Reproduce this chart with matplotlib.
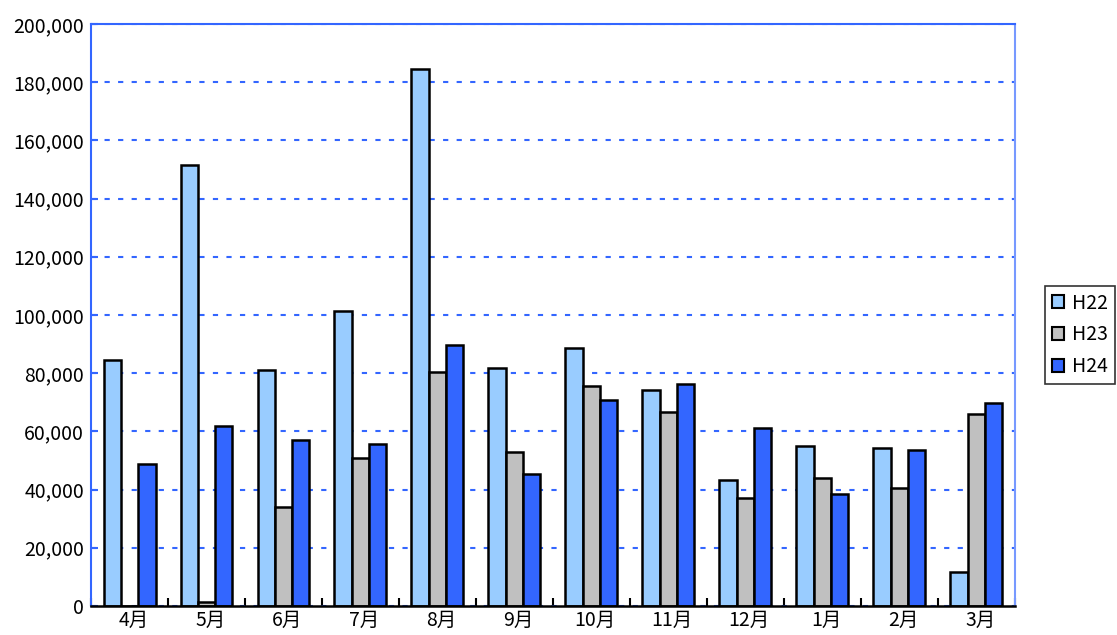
import numpy as np
import matplotlib.pyplot as plt
from matplotlib.ticker import FuncFormatter

plt.rcParams['font.family'] = ['Noto Sans CJK JP', 'DejaVu Sans']

# データ
months = ["4月", "5月", "6月", "7月", "8月", "9月", "10月", "11月", "12月", "1月", "2月", "3月"]
h22 = [84700, 151500, 81000, 101500, 184500, 81700, 88500, 74300, 43300, 55000, 54200, 11600]
h23 = [0, 1400, 34000, 50800, 80300, 52800, 75500, 66800, 37000, 44000, 40400, 66000]
h24 = [48800, 61900, 57000, 55600, 89800, 45400, 70700, 76300, 61000, 38400, 53500, 69900]

series = [("H22", h22, "#99ccff"), ("H23", h23, "#c0c0c0"), ("H24", h24, "#3366ff")]

fig = plt.figure(figsize=(11.17, 6.35), dpi=100)
ax = fig.add_axes([0.0815, 0.0457, 0.827, 0.9165])

x = np.arange(len(months))
w = 0.225
for i, (name, vals, col) in enumerate(series):
    ax.bar(x + (i - 1) * w, vals, width=w, color=col, edgecolor="black",
           linewidth=1.8, label=name, zorder=3)

ax.set_xlim(-0.5, len(months) - 0.5)
ax.set_ylim(0, 200000)
ax.set_yticks(np.arange(0, 200001, 20000))
ax.yaxis.set_major_formatter(FuncFormatter(lambda v, p: f"{int(v):,}"))
ax.yaxis.grid(True, color="#3366ff", linestyle=(0, (2.5, 4)), linewidth=1.5, zorder=1)

# x目盛りは区切り位置、ラベルは中央
ax.set_xticks(np.arange(-0.5, len(months), 1))
ax.set_xticklabels([])
ax.set_xticks(x + 0.05, minor=True)
ax.set_xticklabels(months, minor=True, fontsize=14)
ax.tick_params(axis="x", which="major", direction="in", length=6, width=1.5, color="black")
ax.tick_params(axis="x", which="minor", length=0, pad=3)
ax.tick_params(axis="y", direction="in", length=5, width=1.5, color="#3366ff", labelsize=14, pad=5)

for s in ["left", "top", "right"]:
    ax.spines[s].set_color("#3366ff")
    ax.spines[s].set_linewidth(1.5)
ax.spines["right"].set_color("#7799ff")
ax.spines["bottom"].set_color("black")
ax.spines["bottom"].set_linewidth(1.8)
ax.spines["bottom"].set_zorder(4)

leg = ax.legend(loc="center left", bbox_to_anchor=(1.0325, 0.466), fontsize=14,
                frameon=True, fancybox=False, edgecolor="black",
                handlelength=0.65, handleheight=0.65, handletextpad=0.4,
                labelspacing=0.55, borderpad=0.35, borderaxespad=0)
leg.get_frame().set_linewidth(1.2)
for h in leg.legend_handles:
    h.set_linewidth(1.5)

fig.savefig("out.png", dpi=100)
